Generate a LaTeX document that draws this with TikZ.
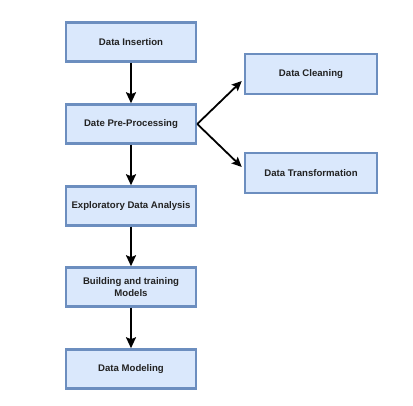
\documentclass[tikz,border=0pt]{standalone}
\usepackage{fontspec}
\setmainfont{Liberation Sans}
\usetikzlibrary{arrows.meta}
\definecolor{boxfill}{HTML}{DAE8FC}
\definecolor{boxline}{HTML}{6C8EBF}
\definecolor{txt}{HTML}{222222}
\begin{document}
\begin{tikzpicture}[x=1pt,y=-1pt,
  stepbox/.style={draw=boxline,fill=boxfill,line width=2.5pt,minimum width=130pt,minimum height=39pt,inner sep=2pt,align=center,text=txt,font=\fontsize{9.6}{11.5}\selectfont\bfseries},
  flow/.style={-{Stealth[length=11pt,width=10pt,inset=2pt]},line width=2pt,black},
  side/.style={-{Stealth[length=10pt,width=9pt,inset=2pt]},line width=1.8pt,black}]
\useasboundingbox[fill=white] (0,0) rectangle (413,406);
\node[stepbox] (ins) at (131,42) {Data Insertion};
\node[stepbox] (pre) at (131,124) {Date Pre-Processing};
\node[stepbox] (eda) at (131,206) {Exploratory Data Analysis};
\node[stepbox] (bld) at (131,287) {Building and training\\Models};
\node[stepbox] (mod) at (131,369) {Data Modeling};
\node[stepbox,minimum width=132pt,minimum height=40pt] (cln) at (311,74) {Data Cleaning};
\node[stepbox,minimum width=132pt,minimum height=40pt] (trf) at (311,173) {Data Transformation};
\draw[flow] (ins) -- (pre);
\draw[flow] (pre) -- (eda);
\draw[flow] (eda) -- (bld);
\draw[flow] (bld) -- (mod);
\coordinate (c1) at ([xshift=-2pt,yshift=-7pt]cln.west);
\coordinate (c2) at ([xshift=-2pt,yshift=6pt]trf.west);
\draw[side] (pre.east) -- (c1);
\draw[side] (pre.east) -- (c2);
\end{tikzpicture}
\end{document}
